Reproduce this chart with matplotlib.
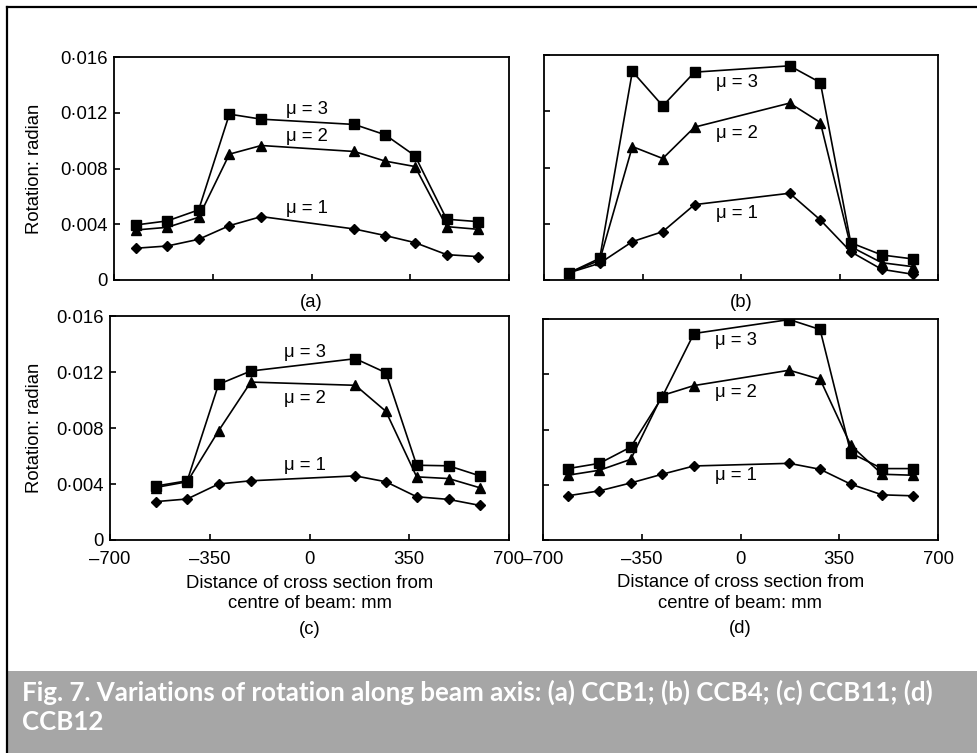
import matplotlib
matplotlib.use("Agg")
import matplotlib.pyplot as plt
from matplotlib.ticker import FixedLocator, FuncFormatter
from matplotlib.patches import Rectangle
from matplotlib.lines import Line2D

plt.rcParams['font.family'] = ['Liberation Sans', 'DejaVu Sans']

# ---------------- data ----------------
# (a) CCB1
xa = [-622, -511, -400, -291, -178, 152, 261, 367, 479, 589]
a_mu3 = [0.00395, 0.00424, 0.00503, 0.0119, 0.01154, 0.01116, 0.01042, 0.00891, 0.00436, 0.00419]
a_mu2 = [0.00359, 0.00378, 0.0045, 0.00903, 0.00965, 0.00922, 0.00853, 0.00814, 0.00383, 0.00364]
a_mu1 = [0.00228, 0.00244, 0.00292, 0.0039, 0.00455, 0.00366, 0.00319, 0.00268, 0.00182, 0.00168]

# (b) CCB4
xb = [-610, -502, -386, -278, -165, 173, 282, 390, 500, 610]
b_mu3 = [0.00052, 0.00154, 0.01483, 0.01238, 0.01478, 0.01523, 0.01404, 0.00265, 0.00178, 0.0015]
b_mu2 = [0.00052, 0.0014, 0.00949, 0.00864, 0.01087, 0.01258, 0.0112, 0.00237, 0.00123, 0.00095]
b_mu1 = [0.00052, 0.00119, 0.00273, 0.00344, 0.00536, 0.00617, 0.00427, 0.00201, 0.00076, 0.00041]

# (c) CCB11
xc = [-540, -429, -319, -206, 161, 268, 376, 488, 598]
c_mu3 = [0.00385, 0.00423, 0.01112, 0.01207, 0.01295, 0.01195, 0.00534, 0.0053, 0.00458]
c_mu2 = [0.00375, 0.00416, 0.0078, 0.01128, 0.01105, 0.00919, 0.00451, 0.00439, 0.00373]
c_mu1 = [0.00274, 0.00293, 0.004, 0.00423, 0.00458, 0.00416, 0.00309, 0.0029, 0.00247]

# (d) CCB12
xd = [-612, -500, -389, -278, -165, 173, 282, 391, 502, 610]
d_mu3 = [0.00517, 0.00555, 0.00673, 0.01034, 0.01495, 0.01596, 0.01524, 0.0063, 0.00517, 0.00517]
d_mu2 = [0.00469, 0.00505, 0.00584, 0.01046, 0.01118, 0.01229, 0.01164, 0.00685, 0.00476, 0.00469]
d_mu1 = [0.0032, 0.00356, 0.00413, 0.00476, 0.00536, 0.00555, 0.00512, 0.00404, 0.00327, 0.0032]

series_labels = ["μ = 1", "μ = 2", "μ = 3"]
# label y positions per panel (mu1, mu2, mu3)
lab_y_a = [0.0051, 0.0103, 0.0122]
lab_y_b = [0.00475, 0.01045, 0.01406]
lab_y_c = [0.0053, 0.0101, 0.01342]
lab_y_d = [0.00464, 0.0107, 0.01447]
lab_x = -15

panel_names = ["(a)", "(b)", "(c)", "(d)"]
xticks = [-700, -350, 0, 350, 700]
yticks = [0, 0.004, 0.008, 0.012, 0.016]
ylabel = "Rotation: radian"
xlabel = "Distance of cross section from\ncentre of beam: mm"
caption = "Fig. 7. Variations of rotation along beam axis: (a) CCB1; (b) CCB4; (c) CCB11; (d)\nCCB12"

FS = 13.3

# ---------------- figure ----------------
W, H = 977, 753
fig = plt.figure(figsize=(W / 100, H / 100), dpi=100)

def rect(l, r, t, b):
    return [l / W, 1 - b / H, (r - l) / W, (b - t) / H]

boxes = [rect(114, 509, 57, 280), rect(544, 938, 55, 280),
         rect(110, 509, 316, 540), rect(543, 938, 319, 540)]
data = [(xa, a_mu1, a_mu2, a_mu3, lab_y_a),
        (xb, b_mu1, b_mu2, b_mu3, lab_y_b),
        (xc, c_mu1, c_mu2, c_mu3, lab_y_c),
        (xd, d_mu1, d_mu2, d_mu3, lab_y_d)]

def xfmt(v, pos):
    v = int(round(v))
    return ("–%d" % -v) if v < 0 else "%d" % v

def yfmt(v, pos):
    if abs(v) < 1e-12:
        return "0"
    return ("%.3f" % v).replace(".", "·")

for i, (box, (x, m1, m2, m3, laby)) in enumerate(zip(boxes, data)):
    ax = fig.add_axes(box)
    ax.plot(x, m1, color='black', lw=1.2, marker='D', ms=5.5, zorder=3)
    ax.plot(x, m2, color='black', lw=1.2, marker='^', ms=7.5, zorder=3)
    ax.plot(x, m3, color='black', lw=1.2, marker='s', ms=7.5, zorder=3)
    for ly, s in zip(laby, series_labels):
        ax.text(lab_x, ly, s, ha='center', va='center', fontsize=FS)
    ax.set_xlim(-700, 700)
    ax.set_ylim(0, 0.016)
    for sp in ax.spines.values():
        sp.set_linewidth(1.3)
    ax.xaxis.set_major_locator(FixedLocator(xticks))
    ax.yaxis.set_major_locator(FixedLocator(yticks))
    ax.tick_params(axis='x', direction='in', length=4, width=1.2, pad=8, labelsize=FS)
    ax.tick_params(axis='y', direction='in', length=4.5, width=1.2, pad=4.5, labelsize=FS)
    if i >= 2:
        ax.xaxis.set_major_formatter(FuncFormatter(xfmt))
        ax.text(0.5, -0.24, xlabel, transform=ax.transAxes, ha='center',
                va='center', fontsize=FS, linespacing=1.25)
        ax.text(0.5, -0.40, panel_names[i], transform=ax.transAxes,
                ha='center', va='center', fontsize=FS)
    else:
        ax.set_xticklabels([])
        ax.text(0.5, -0.099, panel_names[i], transform=ax.transAxes,
                ha='center', va='center', fontsize=FS)
    if i % 2 == 0:
        ax.yaxis.set_major_formatter(FuncFormatter(yfmt))
        ax.set_ylabel(ylabel, fontsize=FS)
        ax.yaxis.set_label_coords((43 - box[0] * W) / (box[2] * W), 0.5)
    else:
        ax.set_yticklabels([])

# frame lines (top and left) and caption band
fig.add_artist(Line2D([7 / W, 1], [1 - 7 / H, 1 - 7 / H], color='black', lw=1.6,
                      transform=fig.transFigure))
fig.add_artist(Line2D([7 / W, 7 / W], [0, 1 - 7 / H], color='black', lw=1.6,
                      transform=fig.transFigure))
fig.add_artist(Rectangle((7 / W, 0), 1 - 7 / W, 82 / H, transform=fig.transFigure,
                         facecolor='#a6a6a6', edgecolor='none'))
cap = fig.text(22 / W, 1 - 680 / H, caption, ha='left', va='top', color='white',
               fontsize=14, fontweight='bold', family=['Lato', 'DejaVu Sans'],
               linespacing=1.25)

# scale caption font so the first line spans the measured width
fig.canvas.draw()
r = fig.canvas.get_renderer()
first = fig.text(0, 0, caption.split("\n")[0], fontsize=14, fontweight='bold',
                 family=['Lato', 'DejaVu Sans'])
wpx = first.get_window_extent(r).width
first.remove()
cap.set_fontsize(14 * 916 / wpx)

fig.savefig("out.png", dpi=100)
